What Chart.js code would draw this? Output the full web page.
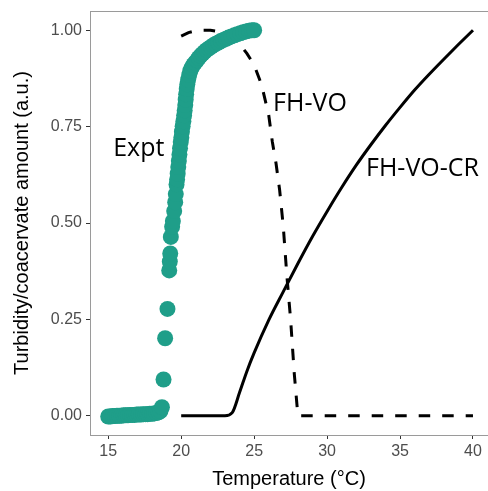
<!DOCTYPE html>
<html>
<head>
<meta charset="utf-8">
<script src="https://cdn.jsdelivr.net/npm/chart.js@4"></script>
<style>
  html, body { margin: 0; padding: 0; background: #fff; overflow: hidden; }
  canvas { display: block; }
</style>
</head>
<body>
<canvas id="chart" width="488" height="491"></canvas>
<script>
// Experimental turbidity points
const exptTemp = [
  15.00, 15.15, 15.30, 15.45, 15.60, 15.75, 15.90, 16.05, 16.20, 16.35,
  16.50, 16.65, 16.80, 16.95, 17.10, 17.25, 17.40, 17.55, 17.70, 17.85,
  18.00, 18.15, 18.30, 18.45, 18.58, 18.68, 18.79, 18.90, 19.06, 19.18,
  19.22, 19.25, 19.29, 19.38, 19.43, 19.52, 19.59, 19.63, 19.68, 19.72,
  19.76, 19.80, 19.84, 19.88, 19.92, 19.97, 20.01, 20.05, 20.10, 20.15,
  20.20, 20.24, 20.28, 20.31, 20.34, 20.38, 20.42, 20.48, 20.55, 20.63,
  20.72, 20.83, 20.95, 21.08, 21.20, 21.33, 21.46, 21.60, 21.75, 21.90,
  22.05, 22.20, 22.38, 22.55, 22.72, 22.90, 23.08, 23.25, 23.45, 23.65,
  23.85, 24.05, 24.25, 24.45, 24.65, 24.85, 25.00
];
const exptValue = [
  -0.002, -0.002, -0.001, -0.001, 0.000, 0.000, 0.000, 0.001, 0.001, 0.001,
  0.002, 0.002, 0.002, 0.003, 0.003, 0.003, 0.004, 0.004, 0.004, 0.005,
  0.005, 0.006, 0.007, 0.009, 0.012, 0.022, 0.094, 0.201, 0.277, 0.377,
  0.400, 0.421, 0.464, 0.490, 0.505, 0.531, 0.554, 0.575, 0.600, 0.613,
  0.628, 0.645, 0.661, 0.678, 0.694, 0.710, 0.722, 0.737, 0.751, 0.764,
  0.779, 0.792, 0.806, 0.820, 0.834, 0.848, 0.860, 0.872, 0.884, 0.895,
  0.903, 0.910, 0.916, 0.922, 0.928, 0.934, 0.939, 0.944, 0.949, 0.953,
  0.957, 0.961, 0.965, 0.968, 0.972, 0.975, 0.978, 0.981, 0.984, 0.987,
  0.990, 0.992, 0.995, 0.997, 0.999, 1.000, 1.000
];

// FH-VO model (dashed)
const fhvoTemp  = [20, 20.5, 21, 21.5, 22, 22.5, 23, 23.5, 24, 24.5, 25, 25.5, 26, 26.25, 26.5, 26.75, 27, 27.25, 27.5, 27.75, 28, 40];
const fhvoValue = [0.985, 0.994, 0.999, 1.0, 1.0, 0.997, 0.99, 0.98, 0.965, 0.94, 0.91, 0.86, 0.78, 0.71, 0.655, 0.585, 0.49, 0.36, 0.25, 0.11, 0.0, 0.0];

// FH-VO-CR model (solid)
const fhvocrTemp  = [20, 23, 23.5, 24, 24.5, 25, 26, 27, 28, 29, 30, 31, 32, 33, 34, 35, 36, 37, 38, 39, 40];
const fhvocrValue = [0, 0, 0.008, 0.06, 0.115, 0.163, 0.248, 0.322, 0.395, 0.465, 0.53, 0.592, 0.65, 0.703, 0.753, 0.80, 0.845, 0.886, 0.925, 0.963, 1.0];

const xTicks = [15, 20, 25, 30, 35, 40];
const yTicks = [0, 0.25, 0.5, 0.75, 1];

const labels = [
  { text: "Expt", x: 15.34, y: 0.673 },
  { text: "FH-VO", x: 26.3, y: 0.79 },
  { text: "FH-VO-CR", x: 32.67, y: 0.621 }
];

const toPoints = (xs, ys) => xs.map((x, i) => ({ x: x, y: ys[i] }));

// draws the top border and the curve labels
const extras = {
  id: "extras",
  afterDraw(chart) {
    const { ctx, chartArea: a, scales } = chart;
    ctx.save();
    ctx.strokeStyle = "#9a9a9a";
    ctx.lineWidth = 1;
    ctx.beginPath();
    ctx.moveTo(a.left, a.top + 0.5);
    ctx.lineTo(a.right, a.top + 0.5);
    ctx.stroke();

    ctx.fillStyle = "#000";
    ctx.font = "25px 'Open Sans'";
    ctx.textAlign = "left";
    ctx.textBaseline = "alphabetic";
    labels.forEach(l => {
      ctx.fillText(l.text, scales.x.getPixelForValue(l.x), scales.y.getPixelForValue(l.y));
    });
    ctx.restore();
  }
};

// keep tick labels from pushing the plot panel inward
const noPad = s => {
  s.paddingLeft = 0; s.paddingRight = 0;
  s.paddingTop = 0; s.paddingBottom = 0;
};

new Chart(document.getElementById("chart"), {
  type: "scatter",
  data: {
    datasets: [
      {
        data: toPoints(exptTemp, exptValue),
        backgroundColor: "#1f9e89",
        borderWidth: 0,
        pointRadius: 8,
        order: 0
      },
      {
        data: toPoints(fhvoTemp, fhvoValue),
        showLine: true,
        borderColor: "#000",
        borderWidth: 3,
        borderDash: [11.5, 12],
        borderCapStyle: "butt",
        pointRadius: 0,
        tension: 0,
        order: 1
      },
      {
        data: toPoints(fhvocrTemp, fhvocrValue),
        showLine: true,
        borderColor: "#000",
        borderWidth: 3,
        pointRadius: 0,
        cubicInterpolationMode: "monotone",
        order: 2
      }
    ]
  },
  options: {
    responsive: false,
    animation: false,
    layout: { autoPadding: false, padding: { top: 11, right: 0, left: 0, bottom: 0 } },
    plugins: { legend: { display: false }, tooltip: { enabled: false } },
    scales: {
      x: {
        type: "linear",
        min: 13.75,
        max: 41.03,
        afterBuildTicks: s => { s.ticks = xTicks.map(v => ({ value: v })); },
        afterFit: s => { s.height = 56; noPad(s); },
        grid: { drawOnChartArea: false, drawTicks: true, tickLength: 4, tickColor: "#333" },
        border: { display: true, color: "#9a9a9a", width: 1 },
        ticks: { color: "#4d4d4d", font: { family: "'Liberation Sans'", size: 16 }, padding: 3, maxRotation: 0 },
        title: { display: true, text: "Temperature (°C)", color: "#000", font: { family: "'Liberation Sans'", size: 20 }, padding: { top: 0, bottom: 0 } }
      },
      y: {
        type: "linear",
        min: -0.05,
        max: 1.05,
        afterBuildTicks: s => { s.ticks = yTicks.map(v => ({ value: v })); },
        afterFit: s => { s.width = 90; noPad(s); },
        grid: { drawOnChartArea: false, drawTicks: true, tickLength: 4, tickColor: "#333" },
        border: { display: true, color: "#9a9a9a", width: 1 },
        ticks: { color: "#4d4d4d", font: { family: "'Liberation Sans'", size: 16 }, padding: 4, callback: v => v.toFixed(2) },
        title: { display: true, text: "Turbidity/coacervate amount (a.u.)", color: "#000", font: { family: "'Liberation Sans'", size: 20 }, padding: { top: 10, bottom: 0 } }
      }
    }
  },
  plugins: [extras]
});
</script>
</body>
</html>
